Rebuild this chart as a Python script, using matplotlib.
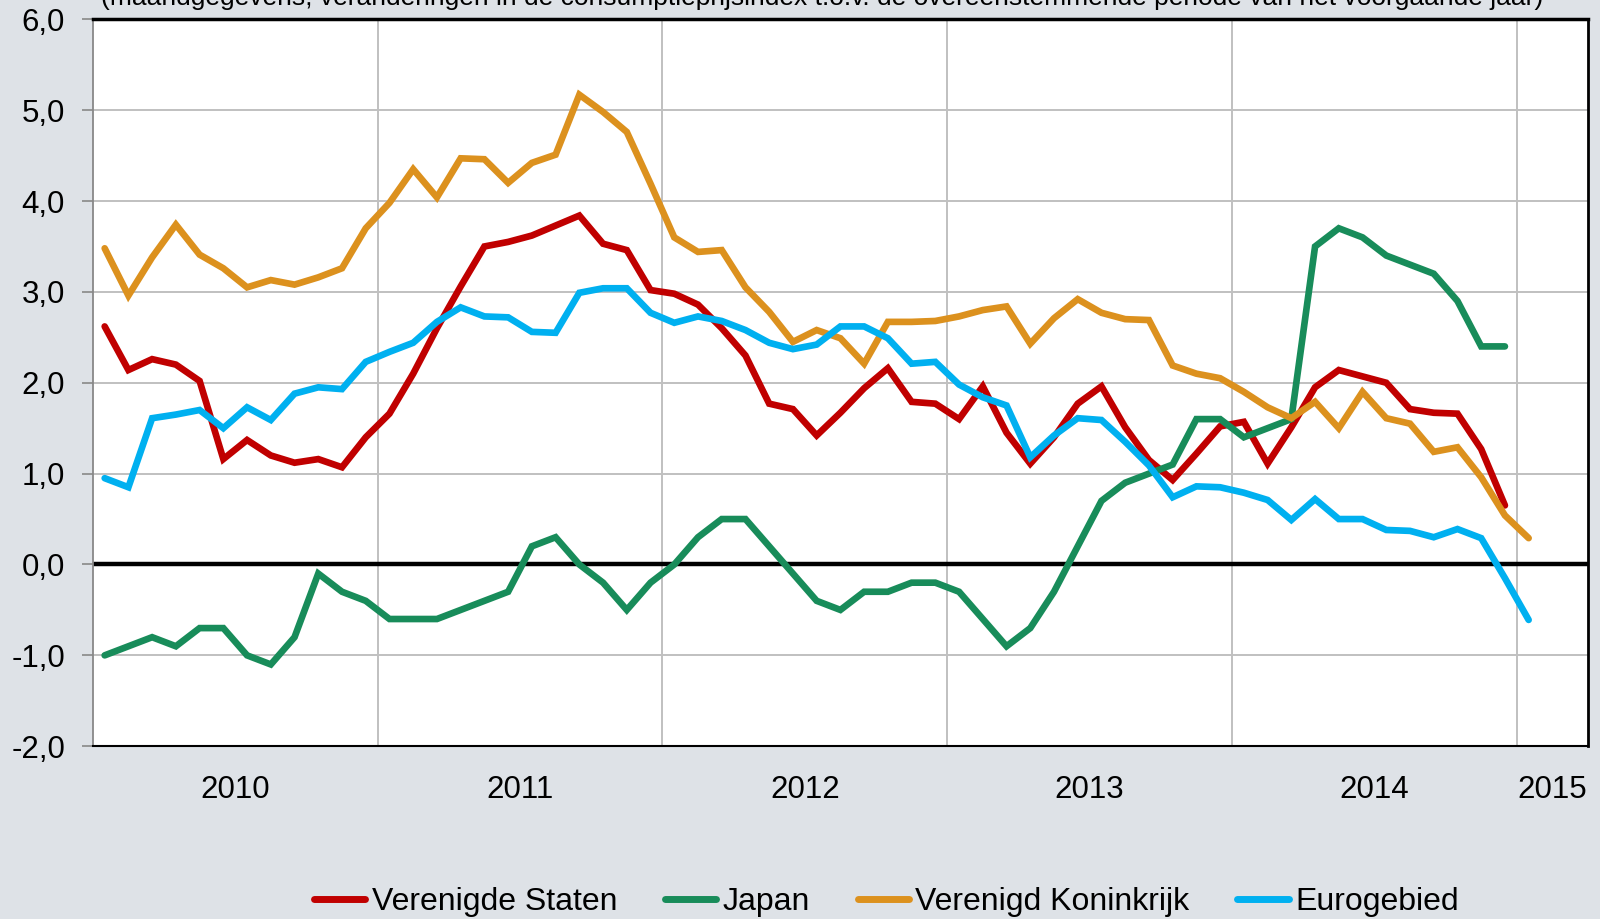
import numpy as np
import matplotlib
matplotlib.use("Agg")
import matplotlib.pyplot as plt

plt.rcParams['font.family'] = ['Liberation Sans', 'DejaVu Sans']

# Monthly data, Jan 2010 onwards
us = [2.62, 2.14, 2.26, 2.2, 2.02, 1.16, 1.37, 1.2, 1.12, 1.16, 1.07, 1.4,
      1.66, 2.1, 2.6, 3.06, 3.5, 3.55, 3.62, 3.73, 3.84, 3.53, 3.46, 3.02,
      2.98, 2.86, 2.6, 2.3, 1.77, 1.71, 1.42, 1.67, 1.94, 2.16, 1.79, 1.77,
      1.6, 1.96, 1.45, 1.11, 1.4, 1.77, 1.96, 1.51, 1.15, 0.93, 1.22, 1.52,
      1.57, 1.11, 1.51, 1.95, 2.14, 2.07, 2.0, 1.71, 1.67, 1.66, 1.27, 0.65]
japan = [-1.0, -0.9, -0.8, -0.9, -0.7, -0.7, -1.0, -1.1, -0.8, -0.1, -0.3, -0.4,
         -0.6, -0.6, -0.6, -0.5, -0.4, -0.3, 0.2, 0.3, 0.0, -0.2, -0.5, -0.2,
         0.0, 0.3, 0.5, 0.5, 0.2, -0.1, -0.4, -0.5, -0.3, -0.3, -0.2, -0.2,
         -0.3, -0.6, -0.9, -0.7, -0.3, 0.2, 0.7, 0.9, 1.0, 1.1, 1.6, 1.6,
         1.4, 1.5, 1.6, 3.5, 3.7, 3.6, 3.4, 3.3, 3.2, 2.9, 2.4, 2.4]
uk = [3.48, 2.96, 3.38, 3.74, 3.41, 3.26, 3.05, 3.13, 3.08, 3.16, 3.26, 3.7,
      3.98, 4.35, 4.04, 4.47, 4.46, 4.2, 4.42, 4.51, 5.17, 4.98, 4.76, 4.19,
      3.6, 3.44, 3.46, 3.05, 2.78, 2.45, 2.58, 2.49, 2.21, 2.67, 2.67, 2.68,
      2.73, 2.8, 2.84, 2.43, 2.71, 2.92, 2.77, 2.7, 2.69, 2.19, 2.1, 2.05,
      1.9, 1.73, 1.61, 1.79, 1.5, 1.9, 1.61, 1.55, 1.24, 1.29, 0.96, 0.54, 0.29]
euro = [0.95, 0.85, 1.61, 1.65, 1.7, 1.5, 1.73, 1.59, 1.88, 1.95, 1.93, 2.23,
        2.34, 2.44, 2.67, 2.83, 2.73, 2.72, 2.56, 2.55, 2.99, 3.04, 3.04, 2.77,
        2.66, 2.73, 2.68, 2.58, 2.44, 2.37, 2.42, 2.62, 2.62, 2.49, 2.21, 2.23,
        1.98, 1.84, 1.75, 1.18, 1.42, 1.61, 1.59, 1.35, 1.09, 0.74, 0.86, 0.85,
        0.79, 0.71, 0.49, 0.72, 0.5, 0.5, 0.38, 0.37, 0.3, 0.39, 0.29, -0.15, -0.61]

series_names = ["Verenigde Staten", "Japan", "Verenigd Koninkrijk", "Eurogebied"]
series_colors = ["#C00000", "#188C5A", "#DC911E", "#00B0F0"]
year_labels = ["2010", "2011", "2012", "2013", "2014", "2015"]
y_ticks = [-2, -1, 0, 1, 2, 3, 4, 5, 6]
title = "(maandgegevens; veranderingen in de consumptieprijsindex t.o.v. de overeenstemmende periode van het voorgaande jaar)"

bg = "#DEE2E7"
fig = plt.figure(figsize=(16, 9.19), dpi=100, facecolor=bg)
ax = fig.add_axes([0.058, 0.188, 0.9345, 0.791])
ax.set_facecolor("white")

for data, name, col in zip([us, japan, uk, euro], series_names, series_colors):
    x = np.arange(len(data)) + 0.5
    ax.plot(x, data, color=col, lw=4.8, label=name, solid_capstyle='round',
            solid_joinstyle='miter', zorder=3)

ax.axhline(0, color="black", lw=3.2, zorder=2)

ax.set_xlim(0, 63)
ax.set_ylim(-2, 6)
ax.set_yticks(y_ticks)
ax.set_yticklabels([f"{v:.1f}".replace(".", ",") for v in y_ticks])
for yv in y_ticks:
    if yv != 0:
        ax.axhline(yv, color="#C0C0C0", lw=1.4, zorder=1)
for xv in [12, 24, 36, 48, 60]:
    ax.axvline(xv, color="#C0C0C0", lw=1.4, zorder=1)

ax.set_xticks([6, 18, 30, 42, 54, 61.5])
ax.set_xticklabels(year_labels)
ax.tick_params(axis='x', length=0, pad=20.5, labelsize=22.5)
ax.tick_params(axis='y', length=8, width=1.2, color="#888888", pad=12, labelsize=22.5)

ax.spines['left'].set_color("#888888")
ax.spines['left'].set_linewidth(1.3)
ax.spines['bottom'].set_color("black")
ax.spines['bottom'].set_linewidth(1.5)
ax.spines['right'].set_color("black")
ax.spines['right'].set_linewidth(2)
ax.spines['top'].set_color("black")
ax.spines['top'].set_linewidth(2.5)

fig.text(0.514, 0.9946, title, ha='center', va='baseline', fontsize=19)

leg = fig.legend(loc='center', bbox_to_anchor=(0.554, 0.018), ncol=4, frameon=False,
                 fontsize=23, handlelength=1.6, handletextpad=0.2, columnspacing=1.5)
for h in leg.get_lines():
    h.set_linewidth(5)

fig.savefig("out.png", dpi=100, facecolor=bg)
